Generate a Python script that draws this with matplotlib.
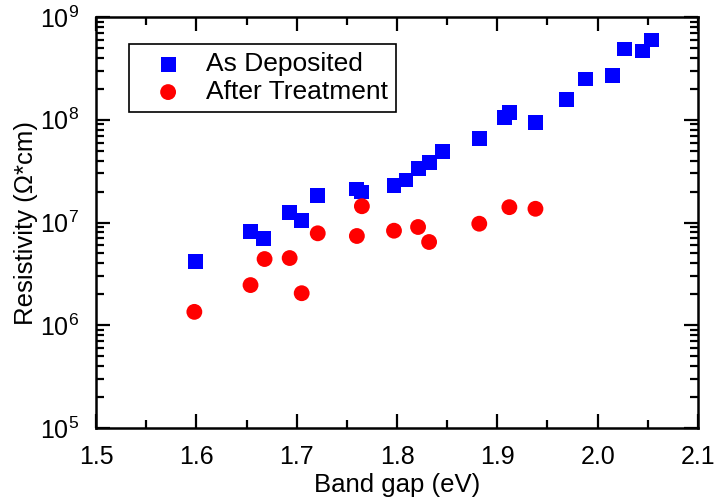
import matplotlib
matplotlib.use("Agg")
import matplotlib.pyplot as plt
from matplotlib.ticker import LogLocator, MultipleLocator, NullFormatter

plt.rcParams['font.family'] = ['Liberation Sans', 'DejaVu Sans']
plt.rcParams['mathtext.fontset'] = 'custom'
plt.rcParams['mathtext.rm'] = 'Liberation Sans'

# As-deposited films
dep_gap = [1.599, 1.654, 1.667, 1.693, 1.705, 1.721, 1.760, 1.765, 1.797,
           1.809, 1.821, 1.832, 1.845, 1.882, 1.907, 1.912, 1.938, 1.969,
           1.988, 2.015, 2.027, 2.045, 2.054]
dep_rho = [4.16e6, 8.14e6, 7.0e6, 1.245e7, 1.04e7, 1.84e7, 2.12e7, 1.98e7,
           2.28e7, 2.59e7, 3.37e7, 3.82e7, 4.93e7, 6.6e7, 1.047e8, 1.18e8,
           9.45e7, 1.59e8, 2.49e8, 2.68e8, 4.88e8, 4.67e8, 5.97e8]

# Films after treatment
trt_gap = [1.598, 1.654, 1.668, 1.693, 1.705, 1.721, 1.760, 1.765, 1.797,
           1.821, 1.832, 1.882, 1.912, 1.938]
trt_rho = [1.35e6, 2.46e6, 4.41e6, 4.51e6, 2.05e6, 7.85e6, 7.39e6, 1.44e7,
           8.32e6, 9.04e6, 6.46e6, 9.73e6, 1.41e7, 1.36e7]

fig = plt.figure(figsize=(7.15, 5.03), dpi=100)
ax = fig.add_axes([0.1343, 0.1491, 0.8419, 0.8171])

ax.scatter(dep_gap, dep_rho, marker='s', s=115, color='#0000ff',
           edgecolors='none', label='As Deposited', zorder=3)
ax.scatter(trt_gap, trt_rho, marker='o', s=130, color='#ff0000',
           edgecolors='none', label='After Treatment', zorder=3)

ax.set_yscale('log')
ax.set_xlim(1.5, 2.1)
ax.set_ylim(1e5, 1e9)

ax.xaxis.set_major_locator(MultipleLocator(0.1))
ax.xaxis.set_minor_locator(MultipleLocator(0.05))
ax.yaxis.set_major_locator(LogLocator(base=10, numticks=10))
ax.yaxis.set_minor_locator(LogLocator(base=10, subs=range(2, 10), numticks=20))
ax.yaxis.set_minor_formatter(NullFormatter())

ax.tick_params(which='both', direction='in', top=True, right=True,
               width=1.6, labelsize=18)
ax.tick_params(which='major', length=10, pad=12)
ax.tick_params(which='minor', length=5.5)
for sp in ax.spines.values():
    sp.set_linewidth(1.8)

ax.set_xlabel('Band gap (eV)', fontsize=18.5, labelpad=3)
ax.set_ylabel('Resistivity (Ω*cm)', fontsize=18.5, labelpad=2)

leg = ax.legend(loc='upper left', bbox_to_anchor=(0.054, 0.934),
                borderaxespad=0, fontsize=19, frameon=True, fancybox=False,
                edgecolor='black', framealpha=1, handletextpad=0.25,
                borderpad=0.3, labelspacing=0.15, handlelength=2.4,
                markerscale=1.0)
leg.get_frame().set_linewidth(1.2)

fig.savefig('out.png', dpi=100)
